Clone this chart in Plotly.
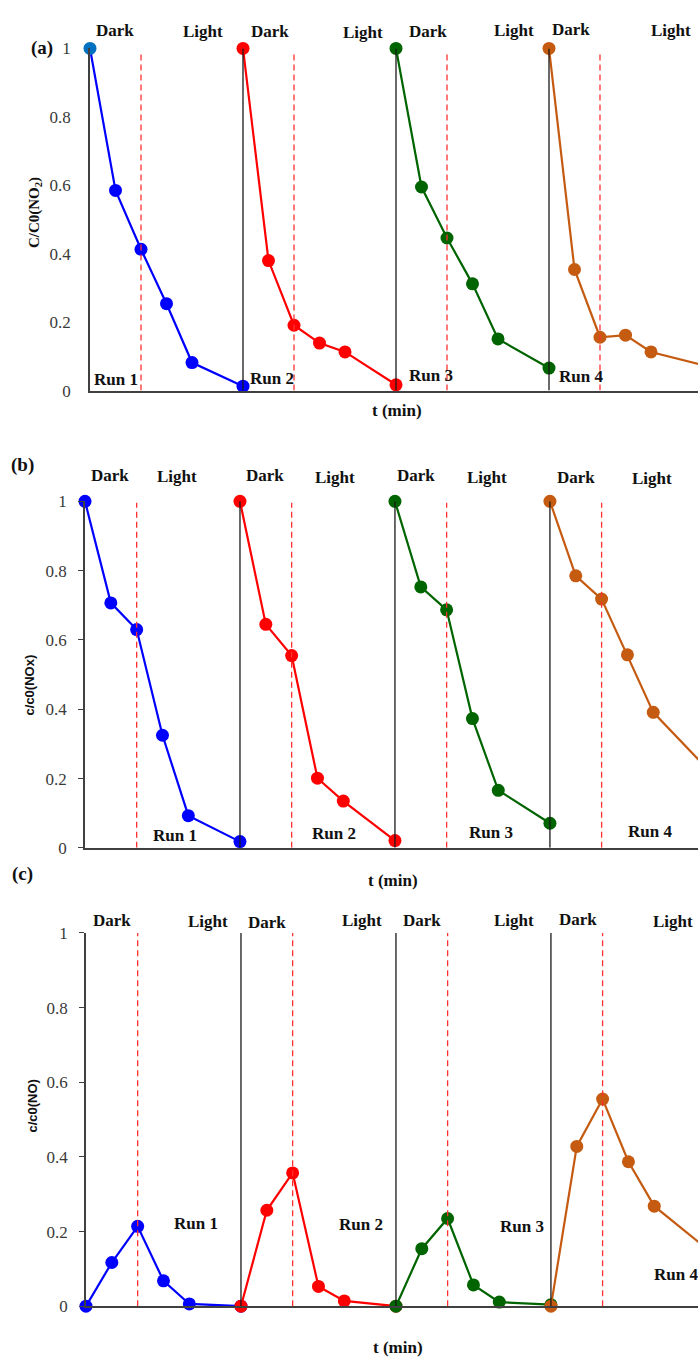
import plotly.graph_objects as go

# ---------------- data ----------------
t_min = [0, 10, 20, 30, 40, 60]      # sampling times within one run
run_span = 60                         # length of one run (min)
light_on = 20                         # lamp switched on (min after run start)
run_names = ["Run 1", "Run 2", "Run 3", "Run 4"]
run_colors = ["#0000FF", "#FF0000", "#006400", "#C55A11"]

# (a) C/C0 (NO2)
no2_run1 = [1.0, 0.585, 0.413, 0.254, 0.082, 0.013]
no2_run2 = [1.0, 0.380, 0.191, 0.139, 0.113, 0.017]
no2_run3 = [1.0, 0.595, 0.446, 0.312, 0.151, 0.066]
no2_run4 = [1.0, 0.354, 0.156, 0.162, 0.113, 0.075]

# (b) c/c0 (NOx)
nox_run1 = [1.0, 0.707, 0.630, 0.325, 0.093, 0.018]
nox_run2 = [1.0, 0.645, 0.555, 0.201, 0.135, 0.021]
nox_run3 = [1.0, 0.753, 0.687, 0.373, 0.166, 0.071]
nox_run4 = [1.0, 0.785, 0.718, 0.557, 0.391, 0.235]

# (c) c/c0 (NO)
no_run1 = [0.0, 0.117, 0.214, 0.068, 0.006, 0.0]
no_run2 = [0.0, 0.257, 0.357, 0.053, 0.014, 0.0]
no_run3 = [0.0, 0.154, 0.235, 0.057, 0.011, 0.004]
no_run4 = [0.0, 0.428, 0.555, 0.387, 0.268, 0.156]

y_ticks = [0, 0.2, 0.4, 0.6, 0.8, 1]
y_tick_labels = ["0", "0.2", "0.4", "0.6", "0.8", "1"]

panels = [
    dict(runs=[no2_run1, no2_run2, no2_run3, no2_run4]),
    dict(runs=[nox_run1, nox_run2, nox_run3, nox_run4]),
    dict(runs=[no_run1, no_run2, no_run3, no_run4]),
]

# ---------------- layout helpers ----------------
W, H = 698, 1365
def px(x):
    return x / W
def py(y):
    return 1 - y / H

# pixel geometry of each panel: left edge, top (y=1), bottom (y=0), px per min
geo = [
    dict(left=90, top=40, bottom=387, scale=2.55, sep_top=1.0, dash_top=0.986, ticks=""),
    dict(left=85, top=499.3, bottom=850.7, scale=2.583, sep_top=1.0, dash_top=0.996, ticks="outside"),
    dict(left=86, top=937, bottom=1315.5, scale=2.583, sep_top=1.01, dash_top=1.01, ticks="outside"),
]

fig = go.Figure()
shapes = []
for i, (pan, g) in enumerate(zip(panels, geo)):
    xa = "x" if i == 0 else f"x{i+1}"
    ya = "y" if i == 0 else f"y{i+1}"
    for r, vals in enumerate(pan["runs"]):
        xs = [t + r * run_span for t in t_min]
        mcol = [run_colors[r]] * len(vals)
        if i == 0 and r == 0:
            mcol[0] = "#0070C0"
        fig.add_trace(go.Scatter(
            x=xs, y=vals, mode="lines+markers", xaxis=xa, yaxis=ya,
            line=dict(color=run_colors[r], width=2.2),
            marker=dict(color=mcol, size=13, line=dict(width=0)),
            cliponaxis=False, showlegend=False, name=run_names[r]))
    for r in range(4):
        if r > 0:
            shapes.append(dict(type="line", xref=xa, yref=ya, x0=r * run_span, x1=r * run_span,
                               y0=0, y1=g["sep_top"], line=dict(color="#1a1a1a", width=1.3),
                               layer="above"))
        xd = r * run_span + light_on
        shapes.append(dict(type="line", xref=xa, yref=ya, x0=xd, x1=xd,
                           y0=0, y1=g["dash_top"], line=dict(color="#FF3030", width=1.3, dash="6px,4px"),
                           layer="above"))
    xmax = (W - g["left"]) / g["scale"]
    axkey = "xaxis" if i == 0 else f"xaxis{i+1}"
    aykey = "yaxis" if i == 0 else f"yaxis{i+1}"
    fig.update_layout(**{
        axkey: dict(domain=[px(g["left"]), 1], range=[0, xmax], showline=True,
                    linecolor="#404040", linewidth=1.6, showgrid=False, zeroline=False,
                    showticklabels=False, ticks="", anchor=ya, fixedrange=True),
        aykey: dict(domain=[py(g["bottom"]), py(g["top"])], range=[0, 1], showline=True,
                    linecolor="#404040", linewidth=1.6, showgrid=False, zeroline=False,
                    tickvals=y_ticks, ticktext=y_tick_labels, ticks=g["ticks"], ticklen=5,
                    tickcolor="#404040", ticklabelstandoff=8 if g["ticks"] else 14,
                    tickfont=dict(family="Liberation Serif", size=17, color="#3a3a3a"),
                    anchor=xa, fixedrange=True),
    })

ann = []
def label(x, y, text, size=17, bold=True, family="Liberation Serif", angle=0, color="#111111"):
    t = f"<b>{text}</b>" if bold else text
    ann.append(dict(x=px(x), y=py(y), xref="paper", yref="paper", text=t, showarrow=False,
                    xanchor="center", yanchor="middle", textangle=angle,
                    font=dict(family=family, size=size, color=color)))

# Dark / Light headers
dark_light = [
    [(115, 22, "Dark"), (203, 23, "Light"), (270, 23, "Dark"), (363, 24, "Light"),
     (428, 23, "Dark"), (514, 22, "Light"), (571, 21, "Dark"), (671, 22, "Light")],
    [(110, 473, "Dark"), (177, 474, "Light"), (265, 473, "Dark"), (335, 475, "Light"),
     (416, 473, "Dark"), (487, 475, "Light"), (576, 475, "Dark"), (652, 476, "Light")],
    [(112, 924, "Dark"), (208, 925, "Light"), (267, 926, "Dark"), (362, 924, "Light"),
     (422, 924, "Dark"), (514, 924, "Light"), (578, 923, "Dark"), (673, 925, "Light")],
]
run_pos = [
    [(116, 376), (272, 375), (431, 372), (581, 373)],
    [(175, 838), (334, 836), (491, 835), (650, 834)],
    [(196, 1232), (361, 1233), (522, 1235), (676, 1283)],
]
for row in dark_light:
    for x, y, t in row:
        label(x, y, t)
for row in run_pos:
    for (x, y), t in zip(row, run_names):
        label(x, y, t)

# x-axis titles
for x, y in [(397, 407), (393, 884), (398, 1357)]:
    label(x, y, "t (min)")

# panel letters
label(42, 40, "(a)", size=19)
label(22, 462, "(b)", size=19)
label(22, 877, "(c)", size=19)

# y-axis titles
label(35, 207, "C/C0(NO<sub>2</sub>)", size=15, angle=-90)
label(29, 686, "c/c0(NOx)", size=13, family="Liberation Sans", angle=-90)
label(33, 1113, "c/c0(NO)", size=13, family="Liberation Sans", angle=-90)

fig.update_layout(
    width=W, height=H, margin=dict(l=0, r=0, t=0, b=0),
    paper_bgcolor="white", plot_bgcolor="white",
    shapes=shapes, annotations=ann, showlegend=False,
)

fig.write_html("out.html")
